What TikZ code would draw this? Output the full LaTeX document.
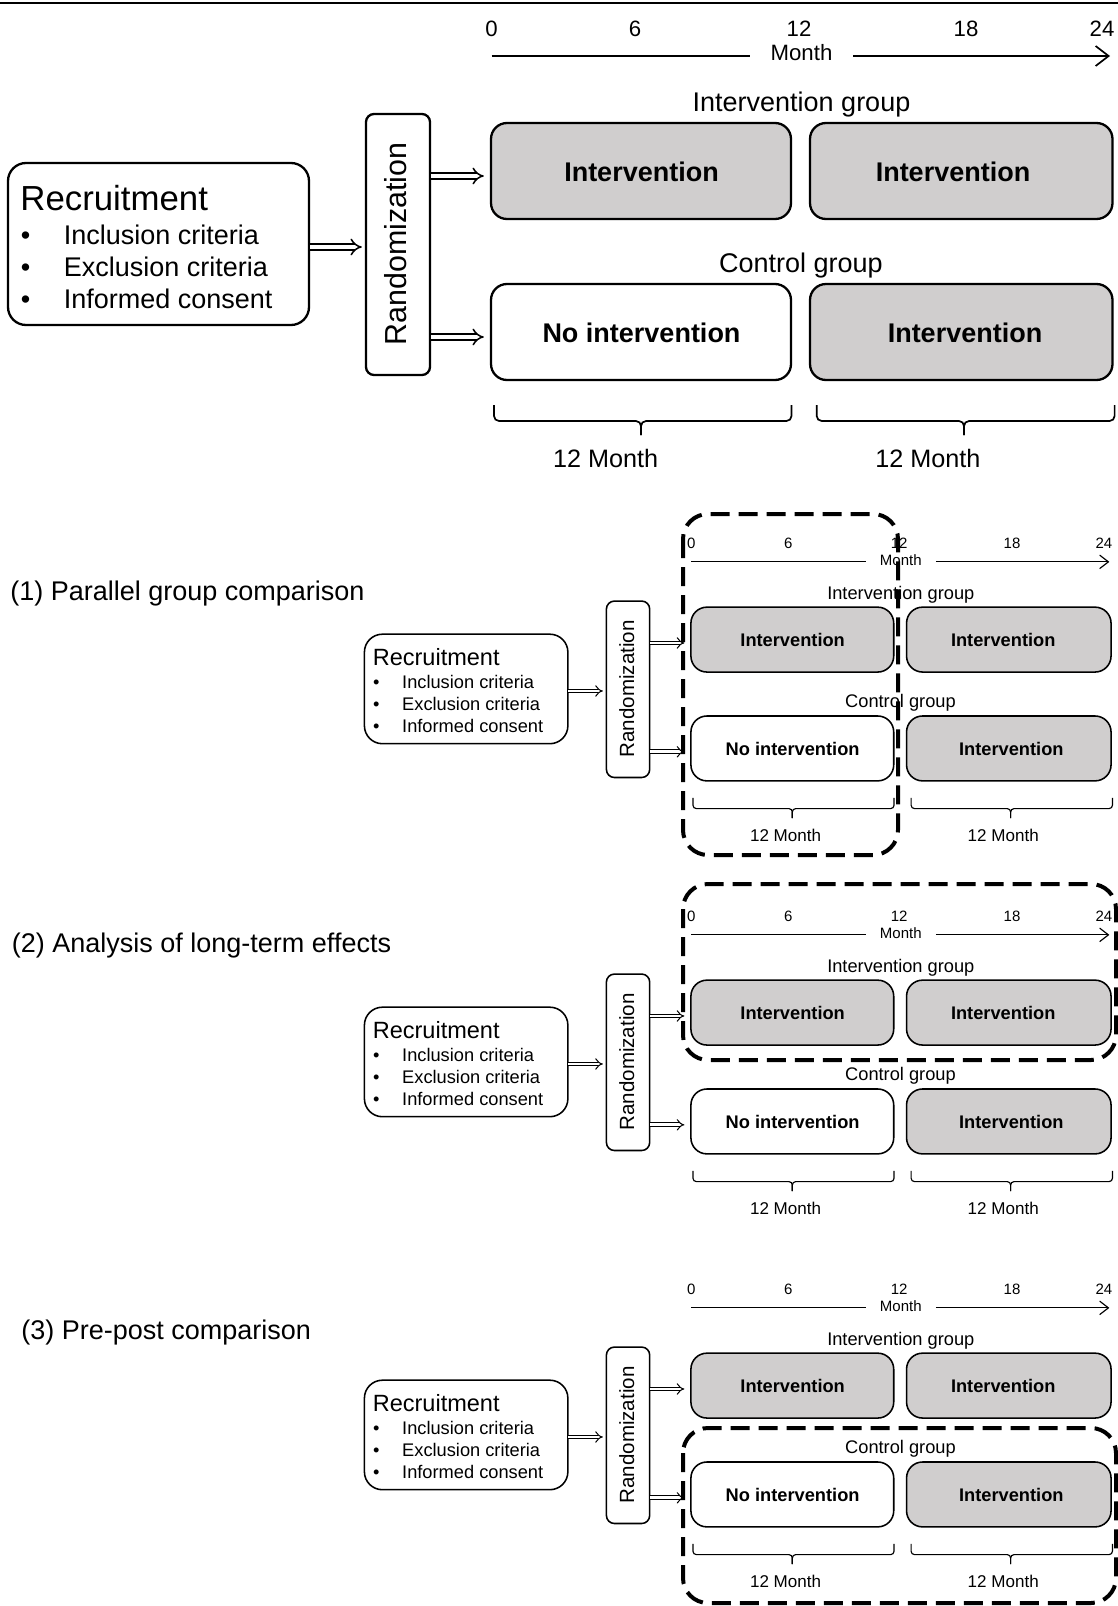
\documentclass[tikz,border=0pt]{standalone}
\usepackage{fontspec}
\setmainfont{Liberation Sans}
\usetikzlibrary{arrows.meta}
\definecolor{boxgray}{RGB}{208,206,206}
\newcommand\fsRec{\fontsize{17.4pt}{20pt}\selectfont}
\newcommand\fsMain{\fontsize{13.5pt}{16pt}\selectfont}
\newcommand\fsRand{\fontsize{15.2pt}{18pt}\selectfont}
\newcommand\fsAxis{\fontsize{11.1pt}{13pt}\selectfont}
\newcommand\fsDur{\fontsize{12.6pt}{15pt}\selectfont}
\tikzset{
  rbox/.style={draw, line width=\blw, rounded corners=#1, inner sep=0pt},
  txt/.style={inner sep=0pt, anchor=base},
  dbl/.style={double, line width=\dlw, double distance=\ddist,
    -{Implies[length=\hlen,width=\hwid]}},
  thinline/.style={line width=\tlw},
  dashbox/.style={draw, line width=2pt, dash pattern=on 9.5pt off 4.5pt, rounded corners=12.5pt},
}
% #1 name prefix, #2 line width factor, #3/#4 x of the two duration labels, #5 their baseline
\newcommand\studypanel[5]{%
  \pgfmathsetlengthmacro\blw{1.15pt*#2}%
  \pgfmathsetlengthmacro\tlw{0.85pt*#2}%
  \pgfmathsetlengthmacro\dlw{0.75pt*#2}%
  \pgfmathsetlengthmacro\ddist{2.15pt*#2}%
  \pgfmathsetlengthmacro\hlen{5.5pt*#2}%
  \pgfmathsetlengthmacro\hwid{10.5pt*#2}%
  \pgfmathsetlengthmacro\alen{6.5pt*#2}%
  \pgfmathsetlengthmacro\awid{10pt*#2}%
  \pgfmathsetlengthmacro\brr{2.5pt*#2}%
  % recruitment
  \node[rbox=9pt, minimum width=150.5pt, minimum height=81pt] (#1rec) at (158.5,244) {};
  \node[txt, anchor=base west, font=\fsRec] (#1rect) at (20,210) {Recruitment};
  \node[txt, font=\fsMain] (#1b1) at (25.5,244) {•};
  \node[txt, font=\fsMain] (#1b2) at (25.5,276.5) {•};
  \node[txt, font=\fsMain] (#1b3) at (25.5,308.5) {•};
  \node[txt, anchor=base west, font=\fsMain] (#1c1) at (63.5,244) {Inclusion criteria};
  \node[txt, anchor=base west, font=\fsMain] (#1c2) at (63.5,276.5) {Exclusion criteria};
  \node[txt, anchor=base west, font=\fsMain] (#1c3) at (63.5,308.5) {Informed consent};
  % randomization
  \node[rbox=4pt, minimum width=32pt, minimum height=130.5pt] (#1rand) at (398,244.5) {};
  \node[inner sep=0pt, rotate=90, font=\fsRand] (#1randt) at (396,244) {Randomization};
  % axis
  \node[txt, font=\fsAxis] (#1n0) at (491.5,36) {0};
  \node[txt, font=\fsAxis] (#1n6) at (635,36) {6};
  \node[txt, font=\fsAxis] (#1n12) at (799,36) {12};
  \node[txt, font=\fsAxis] (#1n18) at (966,36) {18};
  \node[txt, font=\fsAxis] (#1n24) at (1102,36) {24};
  \node[txt, font=\fsAxis, inner xsep=10.3pt] (#1month) at (801.5,61) {Month};
  \coordinate (#1axL) at (491.5,56);
  \coordinate (#1axR) at (1110,56);
  \draw[thinline] (#1axL) -- (#1month.west |- #1axL);
  \draw[thinline, -{Straight Barb[length=\alen,width=\awid]}] (#1month.east |- #1axR) -- (#1axR);
  % groups
  \node[txt, font=\fsMain] (#1ig) at (801.5,111) {Intervention group};
  \node[txt, font=\fsMain] (#1cg) at (801,272) {Control group};
  \node[rbox=8pt, fill=boxgray, minimum width=150pt, minimum height=48pt] (#1int1) at (641,171) {};
  \node[rbox=8pt, fill=boxgray, minimum width=151.25pt, minimum height=48pt] (#1int2) at (961.25,171) {};
  \node[rbox=8pt, fill=white, minimum width=150pt, minimum height=48pt] (#1noint) at (641,332) {};
  \node[rbox=8pt, fill=boxgray, minimum width=151.25pt, minimum height=48pt] (#1int3) at (961.25,332) {};
  \node[txt, font=\fsMain\bfseries] (#1t1) at (641.5,181) {Intervention};
  \node[txt, font=\fsMain\bfseries] (#1t2) at (953,181) {Intervention};
  \node[txt, font=\fsMain\bfseries] (#1t3) at (641.5,342) {No intervention};
  \node[txt, font=\fsMain\bfseries] (#1t4) at (965,342) {Intervention};
  % arrows
  \draw[dbl, shorten >=1.5pt] (#1rec.east |- 0,247) -- (#1rand.west |- 0,247);
  \draw[dbl, shorten >=3pt] (#1rand.east |- 0,176) -- (#1int1.west |- 0,176);
  \draw[dbl, shorten >=3pt] (#1rand.east |- 0,337) -- (#1noint.west |- 0,337);
  % braces
  \draw[thinline, rounded corners=\brr] (494,405) |- (641,421) -- (641,435);
  \draw[thinline, rounded corners=\brr] (791.5,405) |- (641,421) -- (641,435);
  \draw[thinline, rounded corners=\brr] (816.7,405) |- (964,421) -- (964,435);
  \draw[thinline, rounded corners=\brr] (1114.6,405) |- (964,421) -- (964,435);
  \node[txt, font=\fsDur] (#1d1) at (#3,#5) {12 Month};
  \node[txt, font=\fsDur] (#1d2) at (#4,#5) {12 Month};
}
\begin{document}
\begin{tikzpicture}[x=0.5pt, y=-0.5pt]
  \fill[white] (0,0) rectangle (1118,1606);
  \useasboundingbox (0,0) rectangle (1118,1606);
  \draw[line width=0.6pt] (0,3) -- (1118,3);
  \studypanel{m}{1}{605.6}{928}{467}
  \node[txt, anchor=base west, font=\fsMain] (lab1) at (10,600) {(1) Parallel group comparison};
  \node[txt, anchor=base west, font=\fsMain] (lab2) at (11.5,952) {(2) Analysis of long-term effects};
  \node[txt, anchor=base west, font=\fsMain] (lab3) at (21,1339) {(3) Pre-post comparison};
  \begin{scope}[shift={(359,524)}, scale=0.676, transform shape]
    \studypanel{a}{0.676}{631}{953}{470}
  \end{scope}
  \begin{scope}[shift={(359,897)}, scale=0.676, transform shape]
    \studypanel{b}{0.676}{631}{953}{470}
  \end{scope}
  \begin{scope}[shift={(359,1270)}, scale=0.676, transform shape]
    \studypanel{c}{0.676}{631}{953}{470}
  \end{scope}
  \draw[dashbox] (683,514) rectangle (898,855);
  \draw[dashbox] (683,884) rectangle (1116,1060);
  \draw[dashbox] (683,1428) rectangle (1116,1603);
\end{tikzpicture}
\end{document}
